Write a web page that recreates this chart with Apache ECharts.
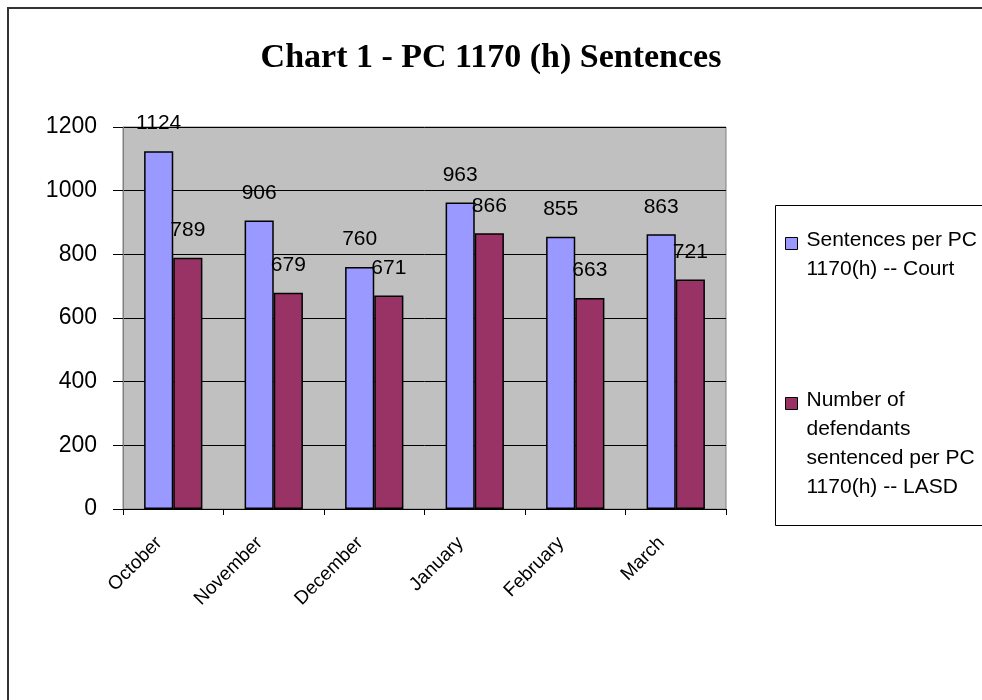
<!DOCTYPE html>
<html>
<head>
<meta charset="utf-8">
<script src="https://cdn.jsdelivr.net/npm/echarts@6/dist/echarts.min.js"></script>
<style>html,body{margin:0;padding:0;background:#fff}#c{width:982px;height:700px}</style>
</head>
<body>
<div id="c"></div>
<script>
const categories = ['October', 'November', 'December', 'January', 'February', 'March'];
const courtValues = [1124, 906, 760, 963, 855, 863];
const lasdValues = [789, 679, 671, 866, 663, 721];
const seriesNames = ['Sentences per PC\n1170(h) -- Court', 'Number of\ndefendants\nsentenced per PC\n1170(h) -- LASD'];
const yTicks = {min: 0, max: 1200, interval: 200};

const FONT = 'Arial, "Liberation Sans", sans-serif';
const LH = 29;
const chart = echarts.init(document.getElementById('c'), null, {renderer: 'canvas'});

function legendFor(name, lines, top) {
  const H = LH * lines;
  const s0 = LH / 2 - 6 + 3;
  const icon = 'path://M0,0L0,0M0,' + s0 + 'L12,' + s0 + 'L12,' + (s0 + 12) + 'L0,' + (s0 + 12) + 'ZM0,' + H + 'L0,' + H;
  return {
    data: [{name: name, icon: icon}], orient: 'vertical', left: 785, top: top, padding: 0,
    itemWidth: 12, itemHeight: H, selectedMode: false,
    itemStyle: {borderColor: '#000', borderWidth: 1},
    textStyle: {fontFamily: FONT, fontSize: 21, color: '#000', lineHeight: LH, padding: [0, 0, 0, 4]}
  };
}

chart.setOption({
  backgroundColor: '#fff',
  animation: false,
  title: {
    text: 'Chart 1 - PC 1170 (h) Sentences', left: 'center', top: 36,
    textStyle: {fontFamily: '"Liberation Serif", "Times New Roman", serif', fontWeight: 'bold', fontSize: 34, color: '#000'}
  },
  graphic: [
    {type: 'rect', shape: {x: 8, y: 8, width: 1000, height: 720}, style: {fill: 'none', stroke: '#333', lineWidth: 2}, silent: true, z: -1},
    {type: 'rect', shape: {x: 775.5, y: 205.5, width: 300, height: 320}, style: {fill: '#fff', stroke: '#000', lineWidth: 1}, silent: true, z: -1}
  ],
  legend: [
    legendFor(seriesNames[0], 2, 225.5),
    legendFor(seriesNames[1], 4, 385.5)
  ],
  grid: {left: 123, top: 127, width: 603, height: 382, show: true, backgroundColor: '#C0C0C0', borderColor: '#808080', borderWidth: 1, containLabel: false},
  xAxis: {
    type: 'category', data: categories, boundaryGap: true,
    axisLine: {show: true, lineStyle: {color: '#000', width: 1}},
    axisTick: {show: true, length: 6, alignWithLabel: false, lineStyle: {color: '#000'}},
    axisLabel: {rotate: 45, fontFamily: FONT, fontSize: 19, color: '#000', margin: 17, padding: [0, 20, 0, 0], interval: 0},
    splitLine: {show: false}
  },
  yAxis: {
    type: 'value', min: yTicks.min, max: yTicks.max, interval: yTicks.interval,
    axisLine: {show: true, lineStyle: {color: '#808080'}},
    axisTick: {show: true, length: 10, inside: false, lineStyle: {color: '#000'}},
    axisLabel: {fontFamily: FONT, fontSize: 23, color: '#000', margin: 26, formatter: function (v) { return String(v); }},
    splitLine: {show: true, lineStyle: {color: '#000', width: 1}}
  },
  series: [
    {
      name: seriesNames[0], type: 'bar', data: courtValues, barGap: '0%', barCategoryGap: '42%',
      itemStyle: {color: '#9999FF', borderColor: '#000', borderWidth: 1.5},
      label: {show: true, position: 'top', distance: 17, fontFamily: FONT, fontSize: 21, color: '#000'}
    },
    {
      name: seriesNames[1], type: 'bar', data: lasdValues, barGap: '0%', barCategoryGap: '42%',
      itemStyle: {color: '#993366', borderColor: '#000', borderWidth: 1.5},
      label: {show: true, position: 'top', distance: 17, fontFamily: FONT, fontSize: 21, color: '#000'}
    }
  ]
});
</script>
</body>
</html>
